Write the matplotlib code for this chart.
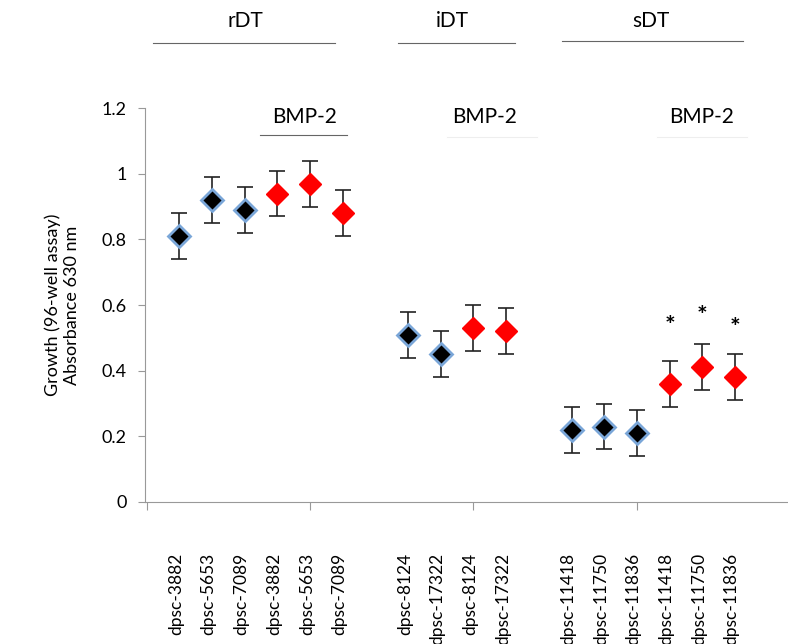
import numpy as np
import matplotlib
matplotlib.use('Agg')
import matplotlib.pyplot as plt

plt.rcParams['font.family'] = ['Lato', 'DejaVu Sans']

# data
labels = ['dpsc-3882', 'dpsc-5653', 'dpsc-7089', 'dpsc-3882', 'dpsc-5653', 'dpsc-7089',
          'dpsc-8124', 'dpsc-17322', 'dpsc-8124', 'dpsc-17322',
          'dpsc-11418', 'dpsc-11750', 'dpsc-11836', 'dpsc-11418', 'dpsc-11750', 'dpsc-11836']
xpos = [1, 2, 3, 4, 5, 6, 8, 9, 10, 11, 13, 14, 15, 16, 17, 18]
growth = [0.81, 0.92, 0.89, 0.94, 0.97, 0.88,
          0.51, 0.45, 0.53, 0.52,
          0.22, 0.23, 0.21, 0.36, 0.41, 0.38]
err = [0.07] * 16
bmp2 = [False, False, False, True, True, True,
        False, False, True, True,
        False, False, False, True, True, True]
star_x = [16, 17, 18]
star_y = [0.535, 0.565, 0.53]

groups = ['rDT', 'iDT', 'sDT']
group_px = [245, 452, 651]
bmp_px = [305, 485, 702]

W, H = 788, 644
fig = plt.figure(figsize=(7.88, 6.44), dpi=100)
ax = fig.add_axes([0.184, 0.2205, 0.815, 0.6115])

for x, y, e, b in zip(xpos, growth, err, bmp2):
    ax.errorbar(x, y, yerr=e, fmt='none', ecolor='#222222', elinewidth=1.2,
                capsize=6, capthick=1.2, zorder=2)
    if b:
        ax.plot(x, y, marker='D', markersize=11, color='#ff0000',
                markeredgecolor='#ff0000', zorder=3)
    else:
        ax.plot(x, y, marker='D', markersize=11, color='black',
                markeredgecolor='#7aa6d8', markeredgewidth=2, zorder=3)

for x, y in zip(star_x, star_y):
    ax.text(x, y, '*', ha='center', va='center', fontsize=18, fontweight='bold')

ax.set_xlim(-0.05, 19.6)
ax.set_ylim(0, 1.2)
ax.set_yticks(np.arange(0, 1.21, 0.2))
ax.set_yticklabels(['0', '0.2', '0.4', '0.6', '0.8', '1', '1.2'], fontsize=13)
ax.set_xticks([0, 5, 10, 15])
ax.set_xticklabels([])
ax.tick_params(axis='x', length=6, color='#999999', direction='out')
ax.tick_params(axis='y', length=5, color='#999999', direction='out', pad=8)
for s in ['top', 'right']:
    ax.spines[s].set_visible(False)
ax.spines['left'].set_color('#999999')
ax.spines['bottom'].set_color('#999999')

for x, lab in zip(xpos, labels):
    ax.text(x - 0.1, -0.155, lab, rotation=90, ha='center', va='top', fontsize=12.5)

ax.set_ylabel('Growth (96-well assay)\nAbsorbance 630 nm', fontsize=13, labelpad=16)

# group headers
for gx, g in zip(group_px, groups):
    fig.text(gx / W, 1 - 21 / H, g, ha='center', va='center', fontsize=15)
fig.add_artist(plt.Line2D([153 / W, 335 / W], [1 - 43 / H] * 2, color='#666666', lw=0.8))
fig.add_artist(plt.Line2D([398 / W, 515 / W], [1 - 43 / H] * 2, color='#666666', lw=0.8))
fig.add_artist(plt.Line2D([562 / W, 743 / W], [1 - 41 / H] * 2, color='#666666', lw=0.8))

for bx in bmp_px:
    fig.text(bx / W, 1 - 117 / H, 'BMP-2', ha='center', va='center', fontsize=15)
fig.add_artist(plt.Line2D([260 / W, 347 / W], [1 - 135 / H] * 2, color='#666666', lw=0.8))
fig.add_artist(plt.Line2D([447 / W, 537 / W], [1 - 137 / H] * 2, color='#eeeeee', lw=0.8))
fig.add_artist(plt.Line2D([657 / W, 747 / W], [1 - 137 / H] * 2, color='#eeeeee', lw=0.8))

fig.savefig('out.png', dpi=100)
